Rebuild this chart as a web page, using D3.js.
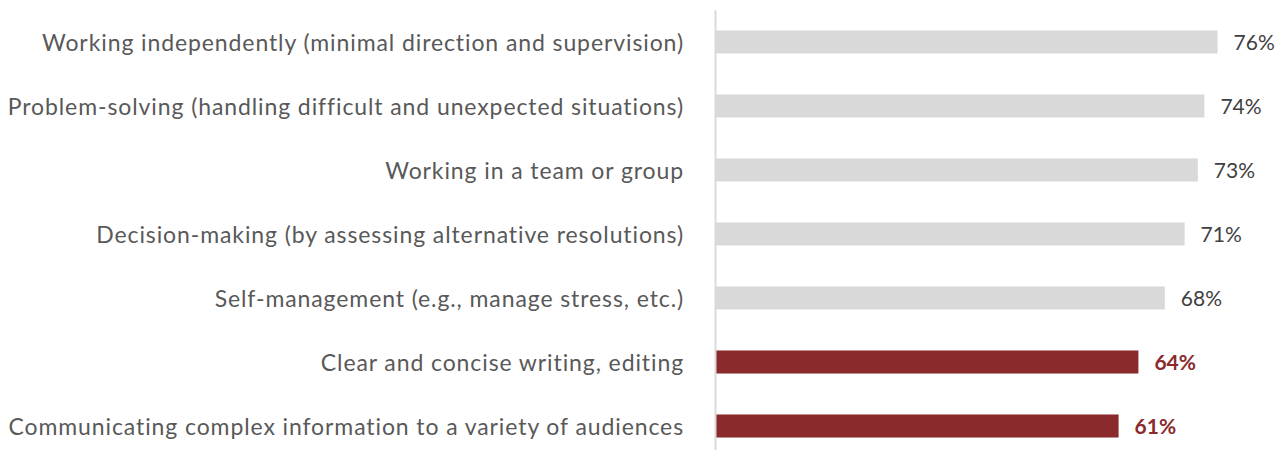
<!DOCTYPE html>
<html>
<head>
<meta charset="utf-8">
<script src="https://cdn.jsdelivr.net/npm/d3@7"></script>
<style>
  body { margin: 0; background: #fff; }
  svg text { font-family: Lato, "Open Sans", sans-serif; }
</style>
</head>
<body>
<div id="chart"></div>
<script>
var categories = [
  "Working independently (minimal direction and supervision)",
  "Problem-solving (handling difficult and unexpected situations)",
  "Working in a team or group",
  "Decision-making (by assessing alternative resolutions)",
  "Self-management (e.g., manage stress, etc.)",
  "Clear and concise writing, editing",
  "Communicating complex information to a variety of audiences"
];
var values = [76, 74, 73, 71, 68, 64, 61];
var highlighted = [false, false, false, false, false, true, true];

var chart_width = 1277;
var chart_height = 450;

var data = categories.map(function(c, i) {
  return { name: c, value: values[i], hi: highlighted[i] };
});

var svg = d3.select('#chart')
  .append('svg')
  .attr('width', chart_width)
  .attr('height', chart_height);

var x = d3.scaleLinear()
  .domain([0, 100])
  .range([716, 1376]);

var y = d3.scaleBand()
  .domain(categories)
  .range([10, 458])
  .paddingInner(0.64)
  .paddingOuter(0.32);

// bars
svg.selectAll('rect')
  .data(data)
  .enter()
  .append('rect')
  .attr('x', x(0))
  .attr('y', function(d) { return y(d.name); })
  .attr('width', function(d) { return x(d.value) - x(0); })
  .attr('height', y.bandwidth())
  .attr('fill', function(d) { return d.hi ? '#8b2a2d' : '#d9d9d9'; });

// category axis
var axis = svg.append('g')
  .attr('transform', 'translate(715,0)')
  .call(d3.axisLeft(y).tickSize(0).tickSizeOuter(0).tickPadding(31));

axis.select('.domain')
  .attr('stroke', '#d9d9d9')
  .attr('stroke-width', 2);

axis.selectAll('.tick text')
  .attr('fill', '#595959')
  .attr('font-size', 23)
  .attr('dy', '0.4em')
  .style('letter-spacing', '0.9px')
  .style('font-family', 'Lato, "Open Sans", sans-serif');

// value labels
svg.selectAll('text.val')
  .data(data)
  .enter()
  .append('text')
  .attr('class', 'val')
  .attr('x', function(d) { return x(d.value) + 16; })
  .attr('y', function(d) { return y(d.name) + y.bandwidth() / 2; })
  .attr('dy', '0.4em')
  .attr('font-size', 21)
  .attr('font-weight', function(d) { return d.hi ? 'bold' : 'normal'; })
  .attr('fill', function(d) { return d.hi ? '#8b2a2d' : '#404040'; })
  .text(function(d) { return d.value + '%'; });
</script>
</body>
</html>
